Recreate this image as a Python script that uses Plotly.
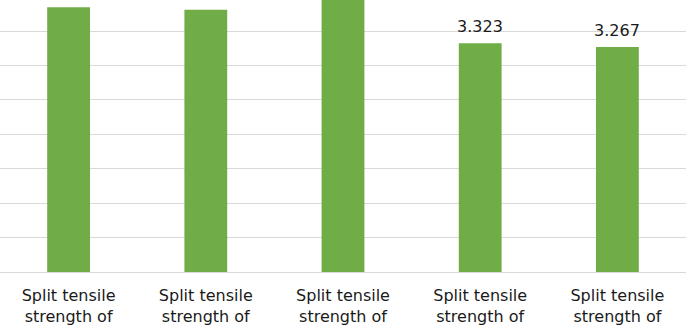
import plotly.graph_objects as go

# Data
tick_labels = [
    "Split tensile<br>strength of",
    "Split tensile<br>strength of",
    "Split tensile<br>strength of",
    "Split tensile<br>strength of",
    "Split tensile<br>strength of",
]
positions = [0, 1, 2, 3, 4]
values = [3.846, 3.808, 4.012, 3.323, 3.267]

FONT = "DejaVu Sans"
Y_MAX = 3.951

fig = go.Figure(
    go.Bar(
        x=positions,
        y=values,
        marker=dict(color="#70AD47", line=dict(width=0)),
        width=0.312,
        hoverinfo="skip",
    )
)

# data labels (those of bars reaching the top edge are cropped away in the view)
for p, v in zip(positions, values):
    if v < Y_MAX - 0.4:
        fig.add_annotation(
            x=p, y=v, xref="x", yref="y",
            text=f"{v:.3f}",
            showarrow=False,
            yanchor="bottom",
            yshift=5,
            font=dict(family=FONT, size=16, color="#1a1a1a"),
        )

fig.update_layout(
    width=686,
    height=326,
    margin=dict(l=0, r=0, t=0, b=50),
    paper_bgcolor="white",
    plot_bgcolor="white",
    showlegend=False,
    font=dict(family=FONT, size=16, color="#1a1a1a"),
)

fig.update_xaxes(
    range=[-0.5, 4.5],
    tickvals=positions,
    ticktext=tick_labels,
    showgrid=False,
    zeroline=False,
    showline=True,
    linecolor="#D9D9D9",
    linewidth=1,
    ticks="",
    ticklabelstandoff=9,
    tickfont=dict(family=FONT, size=16, color="#1a1a1a"),
)

fig.update_yaxes(
    range=[0, Y_MAX],
    dtick=0.5,
    showgrid=True,
    gridcolor="#D9D9D9",
    gridwidth=1,
    zeroline=False,
    showticklabels=False,
    ticks="",
)

fig.write_html(
    "out.html",
    config={"displayModeBar": False},
    post_script="document.body.style.margin='0';document.body.style.padding='0';",
)
